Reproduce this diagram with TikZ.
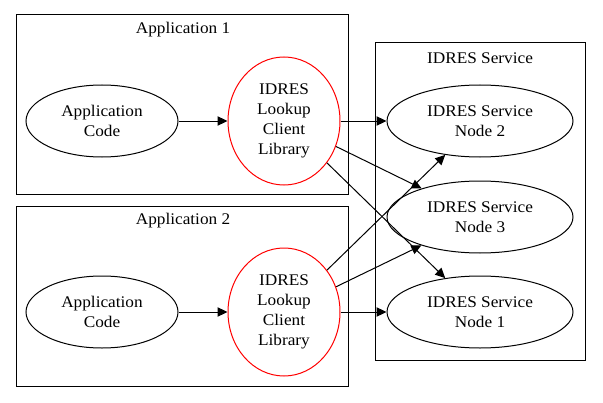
\documentclass[tikz,border=0pt]{standalone}
\usepackage{fontspec}
\setmainfont{Liberation Serif}[FakeStretch=1.06]
\usetikzlibrary{shapes.geometric,arrows.meta}
\begin{document}
\begin{tikzpicture}[x=0.75pt,y=-0.75pt,
  every node/.style={font=\fontsize{12.2}{15}\selectfont, align=center, inner sep=0pt},
  cluster/.style={draw=black, line width=0.75pt},
  codenode/.style={ellipse, draw=black, line width=0.75pt, minimum width=114pt, minimum height=54pt},
  libnode/.style={ellipse, draw=red, line width=0.75pt, minimum width=84pt, minimum height=96pt},
  svcnode/.style={ellipse, draw=black, line width=0.75pt, minimum width=139.5pt, minimum height=54pt},
  conn/.style={draw=black, line width=0.75pt, -{Triangle[length=7.5pt,width=7pt]}}]
\useasboundingbox (0,0) rectangle (603,403);
\draw[cluster] (16,15) rectangle (348,194);
\draw[cluster] (16,206) rectangle (348,386);
\draw[cluster] (375,43) rectangle (585,360);
\node (l1) at (183,30) {Application 1};
\node (l2) at (183,221) {Application 2};
\node (l3) at (480,58) {IDRES Service};
\node[codenode] (c1) at (102,121) {Application\\Code};
\node[libnode] (k1) at (284,121) {IDRES\\Lookup\\Client\\Library};
\node[codenode] (c2) at (102,312) {Application\\Code};
\node[libnode] (k2) at (284,312) {IDRES\\Lookup\\Client\\Library};
\node[svcnode] (n2) at (480,121) {IDRES Service\\Node 2};
\node[svcnode] (n3) at (480,217) {IDRES Service\\Node 3};
\node[svcnode] (n1) at (480,312) {IDRES Service\\Node 1};
\draw[conn] (c1) -- (k1);
\draw[conn] (c2) -- (k2);
\draw[conn] (k1) -- (n2);
\draw[conn] (k1) -- (n3);
\draw[conn] (k1) -- (n1);
\draw[conn] (k2) -- (n2);
\draw[conn] (k2) -- (n3);
\draw[conn] (k2) -- (n1);
\end{tikzpicture}
\end{document}
